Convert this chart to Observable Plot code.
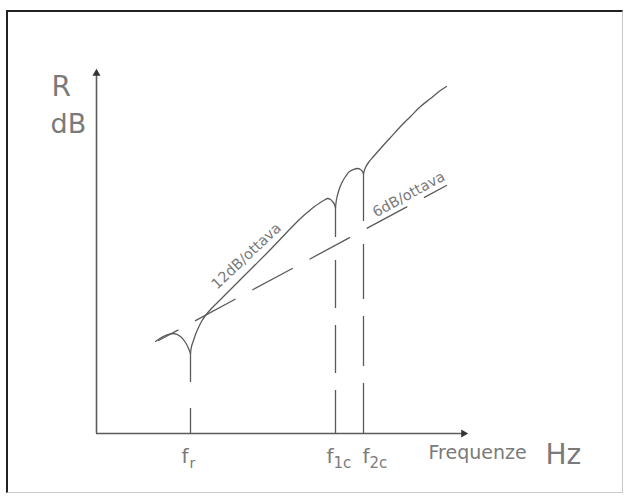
<!DOCTYPE html>
<html><head><meta charset="utf-8">
<script src="https://cdn.jsdelivr.net/npm/d3@7"></script>
<script src="https://cdn.jsdelivr.net/npm/@observablehq/plot@0.6"></script>
<style>
body{margin:0;background:#fff;}
#wrap{position:relative;width:628px;height:497px;overflow:hidden;background:#fff;}
#frame{position:absolute;left:6px;top:10px;width:614px;height:480px;border-top:2px solid #222;border-left:2px solid #222;border-right:1px solid #c8c8c8;border-bottom:1px solid #c8c8c8;pointer-events:none;z-index:2;}
#wrap svg{position:absolute;left:0;top:0;}
</style></head><body><div id="wrap"><div id="frame"></div></div>
<script>
// Axis extents (abstract units: log-frequency / dB)
const xMax = 368, yMax = 361;

// Characteristic frequencies
const tickNames = ["r", "1c", "2c"];
const tickFreq = [94, 239, 267];
const dipLevel = [80, 226, 260];

// Sound reduction curve R, in four pieces (cusps at f_r, f1c, f2c)
const segA_x = [59, 65, 69, 77, 84, 89, 92, 94];
const segA_y = [92, 96, 98, 100, 97, 91, 85, 80];
const segB_x = [94, 95, 97, 99, 102, 105, 109, 114, 120, 134, 154, 174, 194, 204, 212, 218, 224, 228, 231, 234, 236, 238, 239];
const segB_y = [80, 87, 93, 99, 106, 112, 118, 124, 130, 144, 164, 184, 205, 215, 222, 227, 231, 233.5, 235, 234, 232, 229, 226];
const segC_x = [239, 240, 242, 245, 249, 253, 257, 261, 264, 266, 267];
const segC_y = [226, 234, 242, 250, 257, 262, 264, 265, 264, 262, 260];
const segD_x = [267, 269, 272, 277, 284, 294, 304, 314, 324, 334, 344, 350];
const segD_y = [260, 266, 271, 277, 285, 296, 307, 317, 327, 335, 343, 347];

// 6 dB/octave asymptote
const asym_x = [62, 350];
const asym_y = [93, 248];

const slopeLabels = ["12dB/ottava", "6dB/ottava"];

const segs = [["a", segA_x, segA_y], ["b", segB_x, segB_y], ["c", segC_x, segC_y], ["d", segD_x, segD_y]];
const curveData = segs.flatMap(([s, xs, ys]) => xs.map((x, i) => ({seg: s, x, y: ys[i]})));
const asym = asym_x.map((x, i) => ({x, y: asym_y[i]}));
const ticks = tickNames.map((n, i) => ({name: n, x: tickFreq[i], dip: dipLevel[i]}));

const ink = "#5a5a5a";
const txt = "#7a7a7a";
const font = "DejaVu Sans";
const fw = "normal";

// label anchors derived from the data
const lab12 = curveData.find(d => d.seg === "b" && d.x === 154);
const t6 = 0.877;
const lab6 = {x: asym_x[0] + t6 * (asym_x[1] - asym_x[0]), y: asym_y[0] + t6 * (asym_y[1] - asym_y[0])};
const yAxisEnd = {x: 0, y: yMax}, xAxisEnd = {x: xMax, y: 0};

const dashes = ["29,26,30", "30,23,48,17,48,17,45", "48,23,55,17,50,17,52"];
const fDx = [-9, -9, -1], subDx = [-1, -2, 6];

const marks = [
  Plot.ruleX([0], {y1: 0, y2: yMax, stroke: ink, strokeWidth: 1.6}),
  Plot.ruleY([0], {x1: 0, x2: xMax, stroke: ink, strokeWidth: 1.6}),
  Plot.dot([yAxisEnd], {x: "x", y: "y", symbol: "triangle", r: 3, fill: "#333", stroke: "none", dy: 1}),
  Plot.dot([xAxisEnd], {x: "x", y: "y", symbol: "triangle", r: 3, fill: "#333", stroke: "none", rotate: 90, dx: -1}),
  ...ticks.map((t, i) => Plot.ruleX([t], {x: "x", y1: "dip", y2: () => 0, stroke: ink, strokeWidth: 1.3, strokeDasharray: dashes[i]})),
  Plot.line(asym, {x: "x", y: "y", stroke: ink, strokeWidth: 1.3, strokeDasharray: "22,20,45,20,45,20,45,20,45,20,45"}),
  Plot.line(curveData, {x: "x", y: "y", z: "seg", curve: "catmull-rom", stroke: ink, strokeWidth: 1.3}),
  ...ticks.map((t, i) => Plot.text([t], {x: "x", y: () => 0, text: () => "f", dx: fDx[i], dy: 29, textAnchor: "start", lineAnchor: "bottom", fontSize: 20, fill: txt, fontFamily: font, fontWeight: fw})),
  ...ticks.map((t, i) => Plot.text([t], {x: "x", y: () => 0, text: "name", dx: subDx[i], dy: 34, textAnchor: "start", lineAnchor: "bottom", fontSize: i === 0 ? 14 : 15, fill: txt, fontFamily: font, fontWeight: fw})),
  Plot.text([xAxisEnd], {x: "x", y: "y", text: () => "Frequenze", dx: -36, dy: 25, textAnchor: "start", lineAnchor: "bottom", fontSize: 19, fill: txt, fontFamily: font, fontWeight: fw}),
  Plot.text([xAxisEnd], {x: "x", y: "y", text: () => "Hz", dx: 81, dy: 30, textAnchor: "start", lineAnchor: "bottom", fontSize: 28, fill: txt, fontFamily: font, fontWeight: fw}),
  Plot.text([yAxisEnd], {x: "x", y: "y", text: () => "R", dx: -45, dy: 23, textAnchor: "start", lineAnchor: "bottom", fontSize: 28, fill: txt, fontFamily: font, fontWeight: fw}),
  Plot.text([yAxisEnd], {x: "x", y: "y", text: () => "dB", dx: -46, dy: 60, textAnchor: "start", lineAnchor: "bottom", fontSize: 27, fill: txt, fontFamily: font, fontWeight: fw}),
  Plot.text([lab12], {x: "x", y: "y", text: () => slopeLabels[0], rotate: -43, dx: -1, dy: -10, textAnchor: "middle", lineAnchor: "bottom", fontSize: 14.5, fill: txt, fontFamily: font, fontWeight: fw}),
  Plot.text([lab6], {x: "x", y: "y", text: () => slopeLabels[1], rotate: -28.5, dx: 0, dy: -6, textAnchor: "middle", lineAnchor: "bottom", fontSize: 14.5, fill: txt, fontFamily: font, fontWeight: fw})
];

const chart = Plot.plot({
  width: 628, height: 497,
  marginLeft: 96, marginRight: 164, marginTop: 72, marginBottom: 64,
  x: {type: "linear", domain: [0, xMax], axis: null},
  y: {type: "linear", domain: [0, yMax], axis: null},
  style: {background: "transparent", overflow: "visible", fontFamily: font},
  marks
});
document.getElementById("wrap").appendChild(chart);
</script></body></html>
